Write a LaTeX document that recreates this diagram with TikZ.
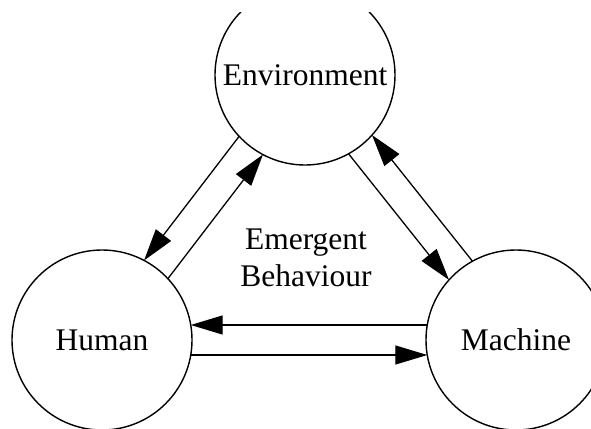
\documentclass[tikz,border=0pt]{standalone}
\usepackage{fontspec}
\setmainfont{Liberation Serif}
\usetikzlibrary{arrows.meta,calc}
% one arrow between two agents, offset 15pt to the right of the centre line
\newcommand\linkarrow[2]{%
  \draw[flow] ($(#1.center)!15pt!-90:(#2.center)$) -- ($(#2.center)!15pt!90:(#1.center)$);}
\begin{document}
\begin{tikzpicture}[x=1pt,y=1pt,
  agent/.style={circle, draw, line width=1.4pt, minimum size=180pt, inner sep=0pt,
    font=\fontsize{31.5}{37}\selectfont},
  flow/.style={line width=1.3pt, -{Triangle[length=32pt,width=19pt]},
    shorten <=88.7pt, shorten >=88.7pt},
  caption/.style={align=center, font=\fontsize{31.5}{37}\selectfont}]
  \useasboundingbox (0,0) rectangle (591,-428);
  \clip (0,0) rectangle (591,-428);
  \fill[white] (0,0) rectangle (591,-428);

  % the environment circle is cut off by the upper margin
  \begin{scope}
    \clip (0,-13) rectangle (591,-428);
    \node[agent] (env) at (305,-75) {Environment};
  \end{scope}
  \node[agent] (hum) at (102,-340) {Human};
  \node[agent] (mac) at (516,-340) {Machine};

  \node[caption] (emerg) at (306,-258) {Emergent\\Behaviour};

  % inner ring of arrows
  \linkarrow{hum}{env}
  \linkarrow{env}{mac}
  \linkarrow{mac}{hum}
  % outer ring of arrows
  \linkarrow{env}{hum}
  \linkarrow{mac}{env}
  \linkarrow{hum}{mac}
\end{tikzpicture}
\end{document}
